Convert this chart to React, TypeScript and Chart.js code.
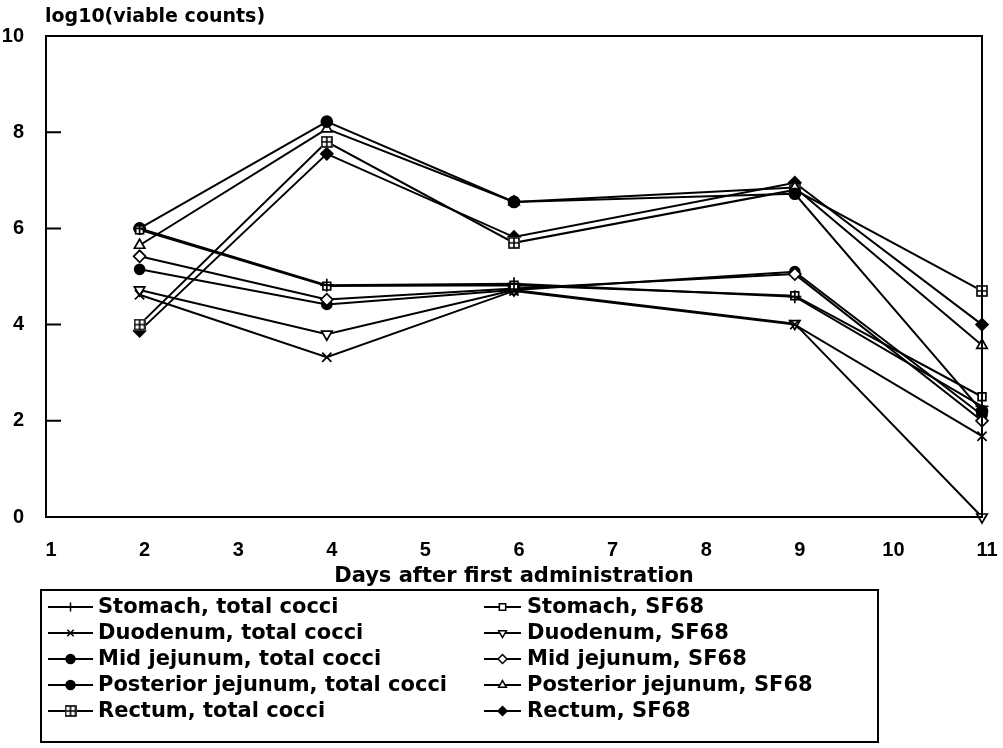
import React, { useEffect, useRef } from 'react';
import { Chart, registerables } from 'chart.js';
import { drawPoint } from 'chart.js/helpers';

Chart.register(...registerables);

// ---- data ----
const days = [2, 4, 6, 9, 11];
const yTickValues = [2, 4, 6, 8];

const stomachTotal = [6.0, 4.82, 4.85, 4.58, 2.3];
const stomachSF68 = [5.97, 4.8, 4.82, 4.6, 2.5];
const duodenumTotal = [4.62, 3.32, 4.7, 4.0, 1.68];
const duodenumSF68 = [4.72, 3.8, 4.72, 4.02, 0.0];
const midJejTotal = [6.0, 8.22, 6.55, 6.72, 2.2];
const midJejSF68 = [5.42, 4.52, 4.75, 5.05, 2.0];
const postJejTotal = [5.15, 4.42, 4.72, 5.1, 2.12];
const postJejSF68 = [5.65, 8.07, 6.55, 6.85, 3.57];
const rectumTotal = [4.0, 7.8, 5.7, 6.8, 4.7];
const rectumSF68 = [3.87, 7.55, 5.82, 6.95, 4.0];

const seriesLabels = [
  'Stomach, total cocci',
  'Stomach, SF68',
  'Duodenum, total cocci',
  'Duodenum, SF68',
  'Mid jejunum, total cocci',
  'Mid jejunum, SF68',
  'Posterior jejunum, total cocci',
  'Posterior jejunum, SF68',
  'Rectum, total cocci',
  'Rectum, SF68',
];
const seriesValues = [
  stomachTotal, stomachSF68, duodenumTotal, duodenumSF68, midJejTotal,
  midJejSF68, postJejTotal, postJejSF68, rectumTotal, rectumSF68,
];

const TICK_FONT = '"Liberation Sans", Arial, sans-serif';
const TEXT_FONT = '"DejaVu Sans", sans-serif';

function makeGridSquare(size: number): HTMLCanvasElement {
  const c = document.createElement('canvas');
  c.width = size;
  c.height = size;
  const g = c.getContext('2d')!;
  g.fillStyle = '#fff';
  g.fillRect(0, 0, size, size);
  g.strokeStyle = '#000';
  g.lineWidth = 1.6;
  g.strokeRect(1, 1, size - 2, size - 2);
  g.beginPath();
  g.moveTo(size / 2, 1);
  g.lineTo(size / 2, size - 1);
  g.moveTo(1, size / 2);
  g.lineTo(size - 1, size / 2);
  g.stroke();
  return c;
}

const framePlugin = {
  id: 'frameAndExtras',
  afterDraw(chart: any) {
    const { ctx, chartArea } = chart;
    const ys = chart.scales.y;
    ctx.save();
    ctx.strokeStyle = '#000';
    ctx.lineWidth = 2;
    ctx.strokeRect(chartArea.left, chartArea.top, chartArea.right - chartArea.left, chartArea.bottom - chartArea.top);
    // inward y ticks
    ctx.beginPath();
    yTickValues.forEach((v) => {
      const py = ys.getPixelForValue(v);
      ctx.moveTo(chartArea.left, py);
      ctx.lineTo(chartArea.left + 15, py);
    });
    ctx.stroke();
    // titles
    ctx.fillStyle = '#000';
    ctx.font = 'bold 19px ' + TEXT_FONT;
    ctx.textBaseline = 'middle';
    ctx.textAlign = 'left';
    ctx.fillText('log10(viable counts)', chartArea.left - 1, 17);
    ctx.textAlign = 'center';
    ctx.font = 'bold 21px ' + TEXT_FONT;
    ctx.fillText('Days after first administration', (chartArea.left + chartArea.right) / 2, 577);

    // legend box
    ctx.lineWidth = 2;
    ctx.strokeRect(41, 590, 837, 152);
    const rows = [607, 633, 659, 685, 711];
    const colLine = [[48, 93], [484, 521]];
    const colText = [98, 527];
    ctx.font = 'bold 21px ' + TEXT_FONT;
    ctx.textAlign = 'left';
    chart.data.datasets.forEach((ds: any, i: number) => {
      const col = i % 2;
      const row = Math.floor(i / 2);
      const y = rows[row];
      const [x0, x1] = colLine[col];
      ctx.strokeStyle = '#000';
      ctx.lineWidth = 1.8;
      ctx.beginPath();
      ctx.moveTo(x0, y);
      ctx.lineTo(x1, y);
      ctx.stroke();
      ctx.fillStyle = ds.pointBackgroundColor;
      ctx.lineWidth = 1.5;
      drawPoint(ctx, {
        pointStyle: ds.pointStyle,
        radius: 4.5,
        rotation: ds.pointRotation || 0,
        borderWidth: 1.5,
      } as any, (x0 + x1) / 2, y);
      ctx.fillStyle = '#000';
      ctx.fillText(ds.label, colText[col], y + 1);
    });
    ctx.restore();
  },
};

export default function App() {
  const ref = useRef<HTMLCanvasElement | null>(null);

  useEffect(() => {
    if (!ref.current) return;
    const gridSquare = makeGridSquare(12);
    const styles: any[] = [
      { pointStyle: 'cross', radius: 6.5, bg: '#000', rot: 0 },
      { pointStyle: 'rect', radius: 5.5, bg: '#fff', rot: 0 },
      { pointStyle: 'crossRot', radius: 6.5, bg: '#000', rot: 0 },
      { pointStyle: 'triangle', radius: 6, bg: '#fff', rot: 180 },
      { pointStyle: 'circle', radius: 5.5, bg: '#000', rot: 0 },
      { pointStyle: 'rectRot', radius: 6, bg: '#fff', rot: 0 },
      { pointStyle: 'circle', radius: 5, bg: '#000', rot: 0 },
      { pointStyle: 'triangle', radius: 6, bg: '#fff', rot: 0 },
      { pointStyle: gridSquare, radius: 6, bg: '#fff', rot: 0 },
      { pointStyle: 'rectRot', radius: 6, bg: '#000', rot: 0 },
    ];
    const datasets = seriesValues.map((vals, i) => ({
      label: seriesLabels[i],
      data: days.map((d, j) => ({ x: d, y: vals[j] })),
      borderColor: '#000',
      borderWidth: 2,
      pointStyle: styles[i].pointStyle,
      pointRadius: styles[i].radius,
      pointRotation: styles[i].rot,
      pointBackgroundColor: styles[i].bg,
      pointBorderColor: '#000',
      pointBorderWidth: 1.7,
      tension: 0,
      clip: false as any,
    }));

    const chart = new Chart(ref.current, {
      type: 'line',
      data: { datasets },
      options: {
        animation: false,
        responsive: false,
        events: [],
        layout: { padding: { top: 36, right: 21, left: 0, bottom: 0 } },
        plugins: { legend: { display: false }, tooltip: { enabled: false }, title: { display: false } },
        scales: {
          x: {
            type: 'linear',
            min: 1,
            max: 11,
            afterFit: (s: any) => {
              s.height = 748 - 517;
              s.paddingLeft = 0;
              s.paddingRight = 0;
            },
            grid: { display: false, drawTicks: false },
            border: { display: true, color: '#000', width: 2 },
            ticks: {
              stepSize: 1,
              padding: 21,
              labelOffset: 5,
              color: '#000',
              font: { family: TICK_FONT, size: 20, weight: 'bold' },
            },
          },
          y: {
            type: 'linear',
            min: 0,
            max: 10,
            afterFit: (s: any) => { s.width = 46; },
            grid: { display: false, drawTicks: false },
            border: { display: true, color: '#000', width: 2 },
            ticks: {
              stepSize: 2,
              padding: 22,
              color: '#000',
              font: { family: TICK_FONT, size: 20, weight: 'bold' },
            },
          },
        },
      },
      plugins: [framePlugin],
    });
    return () => chart.destroy();
  }, []);

  return (
    <div style={{ position: 'absolute', left: 0, top: 0, width: 1003, height: 748, background: '#fff' }}>
      <canvas ref={ref} width={1003} height={748} />
    </div>
  );
}
